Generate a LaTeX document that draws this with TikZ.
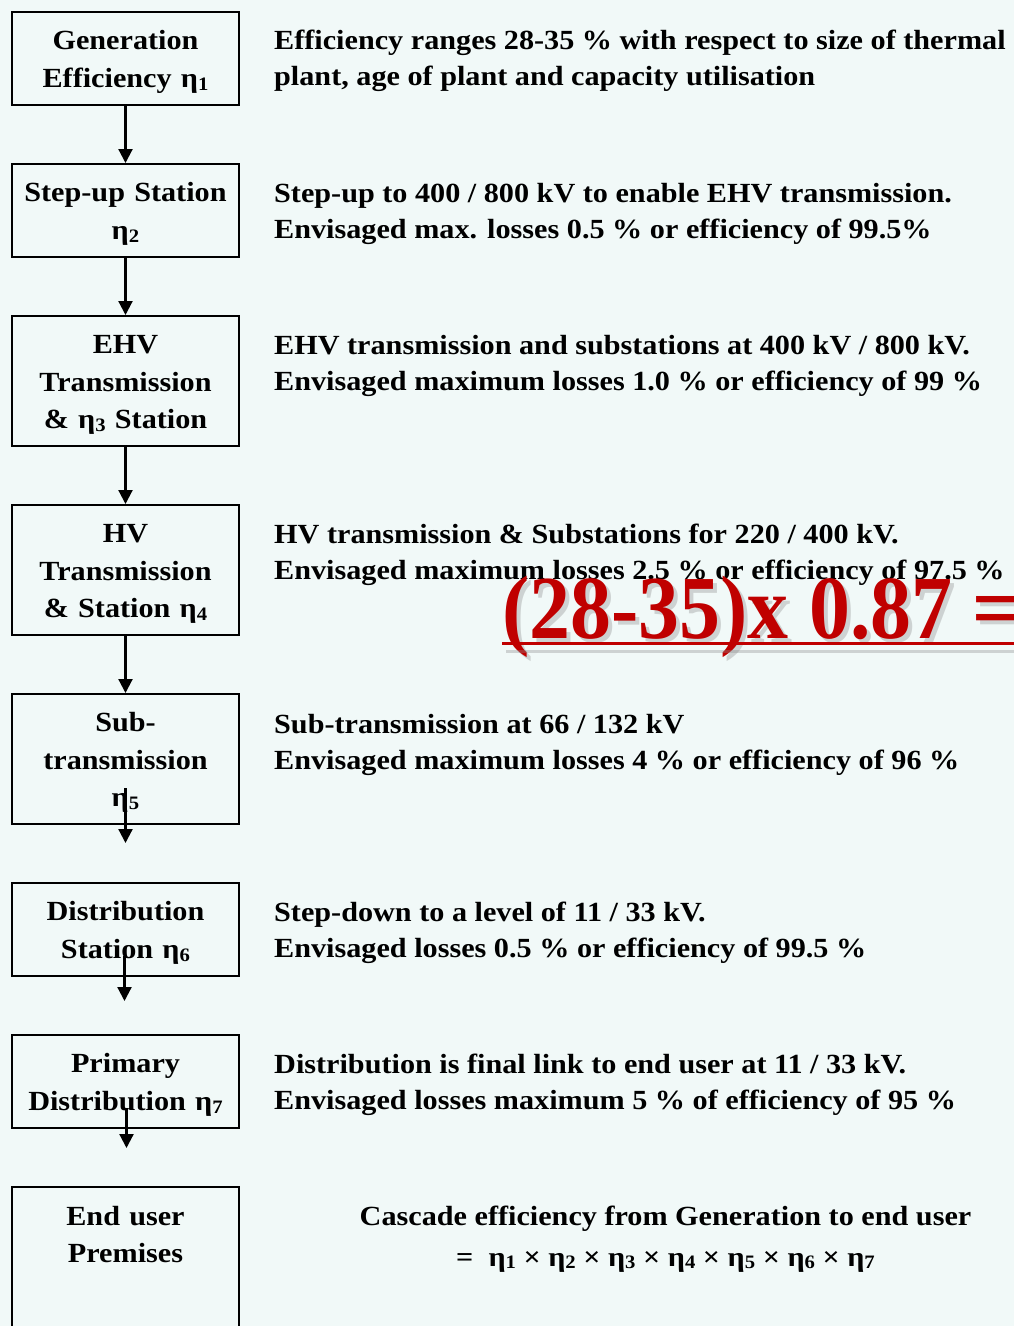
\documentclass[tikz,border=0pt]{standalone}
\usepackage{fontspec}
\setmainfont{Liberation Serif}[FakeStretch=1.09]
\newfontfamily\sumfont{Liberation Serif}[FakeStretch=0.91]
\usetikzlibrary{positioning,arrows.meta,calc}
\definecolor{bgcol}{HTML}{F1F9F8}
\definecolor{sumcol}{HTML}{C00000}
\newcommand{\eff}[1]{η\raisebox{-0.22ex}{\fontsize{19}{19}\selectfont #1}}
\tikzset{
  basic box/.style = {
    shape = rectangle,
    draw,
    line width = 1.6pt,
    align = center,
    text width = 225pt,
    inner sep = 0pt,
    },
  stage/.style = {
    basic box,
    minimum width = 227.4pt,
    minimum height = #1,
    },
  stage/.default = 93.4pt,
  note/.style = {
    align = left,
    anchor = base west,
    inner sep = 0pt,
    font = \fontsize{27.7}{36}\selectfont\bfseries,
    },
  flow/.style = {-{Triangle[width=14pt,length=14pt]}, line width=2.2pt},
  sum text/.style = {
    anchor = base west,
    inner sep = 0pt,
    font = \sumfont\fontsize{90}{90}\selectfont\bfseries,
    }
}
\begin{document}
\begin{tikzpicture}[x=1pt,y=-1pt,node distance=57pt,
    font=\fontsize{27.7}{37.5}\selectfont\bfseries]
    \useasboundingbox (0,0) rectangle (1014,1326);
    \clip (0,0) rectangle (1014,1326);
    \fill[bgcol] (0,0) rectangle (1014,1326);

    % stages
    \node [stage] (gen) at (125.5,58.5) {\rule{0pt}{26pt}Generation\\Efficiency \eff{1}};
    \node [stage, below=of gen] (stepup) {\rule{0pt}{26pt}Step-up Station\\\eff{2}};
    \node [stage=130.4pt, below=of stepup] (ehv) {\rule{0pt}{26pt}EHV\\Transmission\\\& \eff{3} Station};
    \node [stage=130.4pt, below=of ehv] (hv) {\rule{0pt}{26pt}HV\\Transmission\\\& Station \eff{4}};
    \node [stage=130.4pt, below=of hv] (subtr) {\rule{0pt}{26pt}Sub-\\transmission\\\eff{5}};
    \node [stage, below=of subtr] (dist) {\rule{0pt}{26pt}Distribution\\Station \eff{6}};
    \node [stage, below=of dist] (prim) {\rule{0pt}{26pt}Primary\\Distribution \eff{7}};
    \node [stage=170pt, below=of prim] (user) {End user\\Premises\\\mbox{}\\\mbox{}};

    % notes
    \node [note] (gen-note) at ([xshift=34pt,yshift=-74pt]gen.north east)
        {Efficiency ranges 28-35 \% with respect to size of thermal\\plant, age of plant and capacity utilisation};
    \node [note] (stepup-note) at ([xshift=34pt,yshift=-75pt]stepup.north east)
        {Step-up to 400 / 800 kV to enable EHV transmission.\\Envisaged max. losses 0.5 \% or efficiency of 99.5\%};
    \node [note] (ehv-note) at ([xshift=34pt,yshift=-75pt]ehv.north east)
        {EHV transmission and substations at 400 kV / 800 kV.\\Envisaged maximum losses 1.0 \% or efficiency of 99 \%};
    \node [note] (hv-note) at ([xshift=34pt,yshift=-75pt]hv.north east)
        {HV transmission \& Substations for 220 / 400 kV.\\Envisaged maximum losses 2.5 \% or efficiency of 97.5 \%};
    \node [note] (subtr-note) at ([xshift=34pt,yshift=-76pt]subtr.north east)
        {Sub-transmission at 66 / 132 kV\\Envisaged maximum losses 4 \% or efficiency of 96 \%};
    \node [note] (dist-note) at ([xshift=34pt,yshift=-75pt]dist.north east)
        {Step-down to a level of 11 / 33 kV.\\Envisaged losses 0.5 \% or efficiency of 99.5 \%};
    \node [note] (prim-note) at ([xshift=34pt,yshift=-75pt]prim.north east)
        {Distribution is final link to end user at 11 / 33 kV.\\Envisaged losses maximum 5 \% of efficiency of 95 \%};
    \node [align=center, anchor=base, inner sep=0pt] (cascade) at ([xshift=540pt,yshift=-80pt]user.north)
        {Cascade efficiency from Generation to end user\\[3pt]
         =\ \ \eff{1} × \eff{2} × \eff{3} × \eff{4} × \eff{5} × \eff{6} × \eff{7}};

    % overall result
    \node [sum text, text=black!45, opacity=.35] (sum-shadow) at (506,642) {(28-35)x 0.87 =};
    \node [sum text, text=sumcol] (sum) at (502,638) {(28-35)x 0.87 =};
    \draw [black!45, opacity=.35, line width=3pt] ([yshift=-9pt]sum-shadow.base west) -- ([yshift=-9pt]sum-shadow.base east);
    \draw [sumcol, line width=3pt] ([yshift=-5pt]sum.base west) -- ([yshift=-5pt]sum.base east);

    % paths
    \draw [flow] (gen) -- (stepup);
    \draw [flow] (stepup) -- (ehv);
    \draw [flow] (ehv) -- (hv);
    \draw [flow] (hv) -- (subtr);

    \coordinate (subtr-out) at ([yshift=37pt]subtr.south);
    \coordinate (subtr-tip) at ([yshift=-18pt]subtr.south);
    \draw [flow] (subtr-out) -- (subtr-tip);

    \coordinate (dist-out) at ([xshift=-1pt,yshift=21pt]dist.south);
    \coordinate (dist-tip) at ([xshift=-1pt,yshift=-24pt]dist.south);
    \draw [flow] (dist-out) -- (dist-tip);

    \coordinate (prim-out) at ([xshift=1pt,yshift=21pt]prim.south);
    \coordinate (prim-tip) at ([xshift=1pt,yshift=-19pt]prim.south);
    \draw [flow] (prim-out) -- (prim-tip);
\end{tikzpicture}
\end{document}
